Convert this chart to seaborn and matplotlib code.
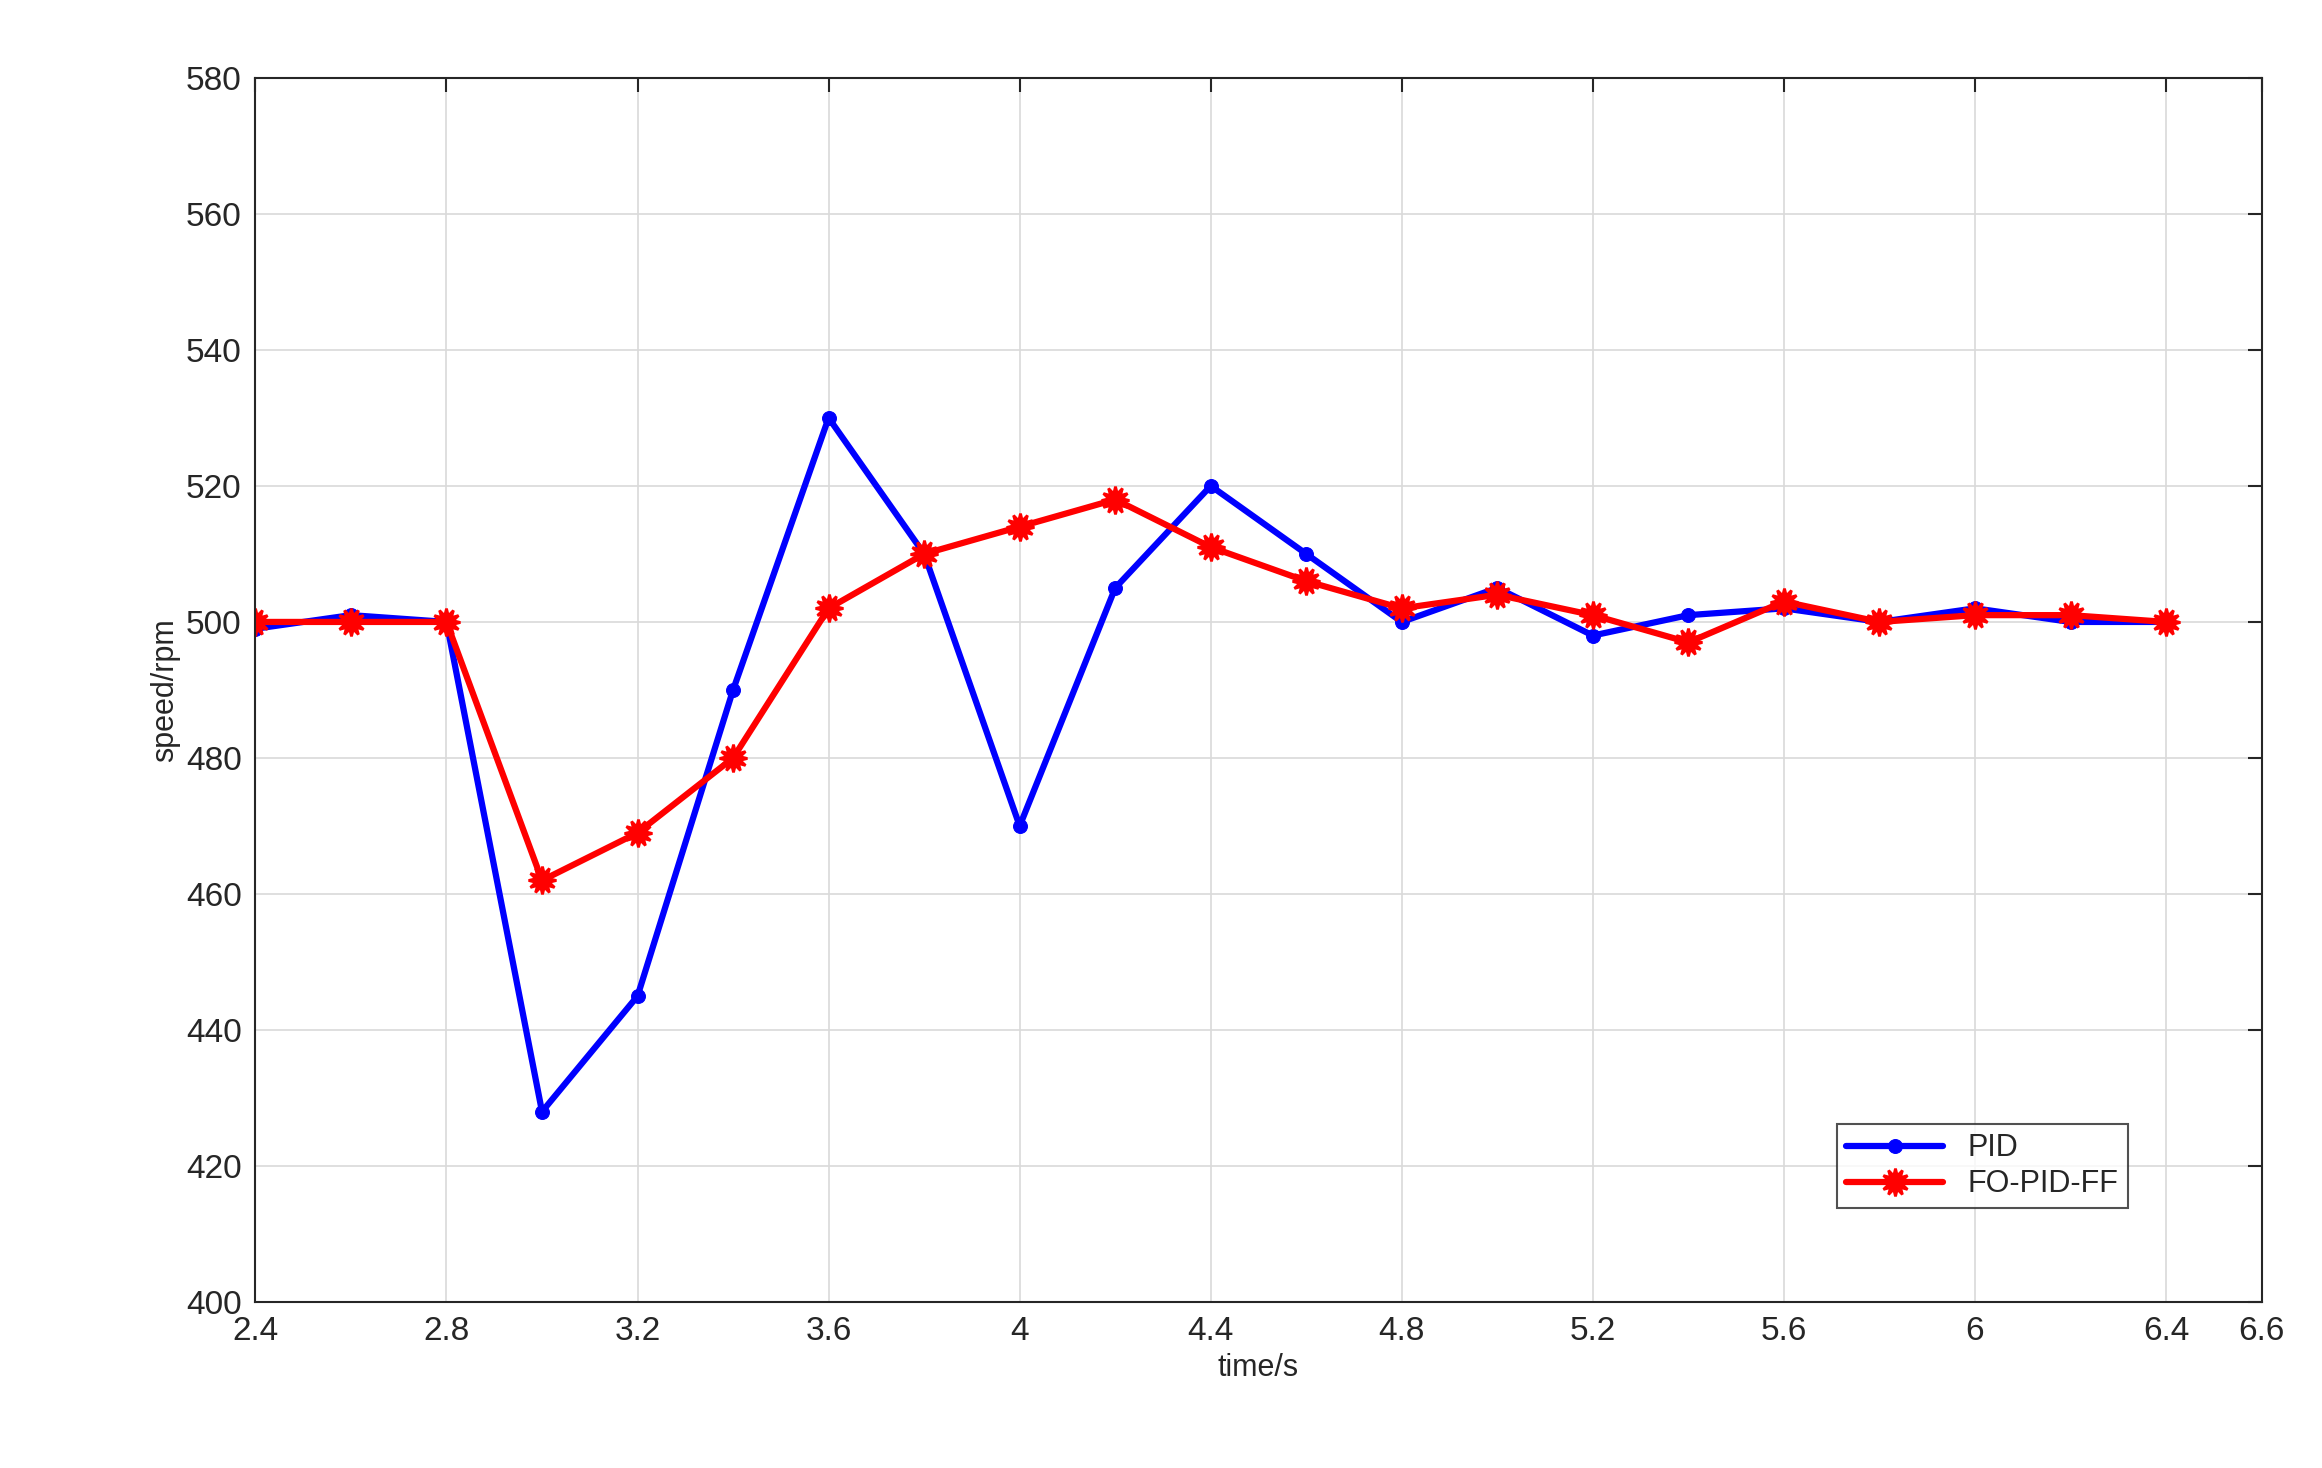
import matplotlib
matplotlib.use("Agg")
import matplotlib.pyplot as plt
import seaborn as sns
import pandas as pd

time = [2.4, 2.6, 2.8, 3.0, 3.2, 3.4, 3.6, 3.8, 4.0, 4.2, 4.4, 4.6, 4.8, 5.0, 5.2, 5.4, 5.6, 5.8, 6.0, 6.2, 6.4]
pid = [499, 501, 500, 428, 445, 490, 530, 510, 470, 505, 520, 510, 500, 505, 498, 501, 502, 500, 502, 500, 500]
fopidff = [500, 500, 500, 462, 469, 480, 502, 510, 514, 518, 511, 506, 502, 504, 501, 497, 503, 500, 501, 501, 500]
xticks = [2.4, 2.8, 3.2, 3.6, 4.0, 4.4, 4.8, 5.2, 5.6, 6.0, 6.4, 6.6]
xticklabels = ["2.4", "2.8", "3.2", "3.6", "4", "4.4", "4.8", "5.2", "5.6", "6", "6.4", "6.6"]
yticks = list(range(400, 581, 20))

sns.set_theme(style="white")
plt.rcParams['font.family'] = ['Liberation Sans', 'DejaVu Sans']

df = pd.DataFrame({"time": time, "PID": pid, "FO-PID-FF": fopidff})
fig = plt.figure(figsize=(23.22, 14.68), dpi=100)
ax = fig.add_axes([0.110, 0.113, 0.864, 0.834])

sns.lineplot(data=df, x="time", y="PID", ax=ax, color="#0000ff", lw=4.5,
             marker="o", markersize=10, markeredgecolor="#0000ff", label="PID")
sns.lineplot(data=df, x="time", y="FO-PID-FF", ax=ax, color="#ff0000", lw=4.5,
             marker=(12, 1, 0), markersize=20, markeredgecolor="#ff0000",
             markeredgewidth=2, label="FO-PID-FF")

ax.set_xlim(2.4, 6.6)
ax.set_ylim(400, 580)
ax.set_xticks(xticks)
ax.set_xticklabels(xticklabels)
ax.set_yticks(yticks)
ax.grid(True, color="#d9d9d9", lw=1.2)
ax.tick_params(axis="both", direction="in", length=10, width=1.5, labelsize=24,
               top=True, right=True, pad=10, colors="#262626")
for s in ax.spines.values():
    s.set_color("#262626")
    s.set_linewidth(1.5)
ax.set_xlabel("time/s", fontsize=22, color="#262626")
ax.set_ylabel("speed/rpm", fontsize=22, color="#262626")

leg = ax.legend(loc="lower right", bbox_to_anchor=(0.941, 0.064), fontsize=22,
                frameon=True, fancybox=False, handlelength=3.2, borderpad=0.3,
                labelspacing=0.2)
leg.get_frame().set_edgecolor("#262626")
leg.get_frame().set_linewidth(1.5)

fig.savefig("out.png", dpi=100, facecolor="white")
